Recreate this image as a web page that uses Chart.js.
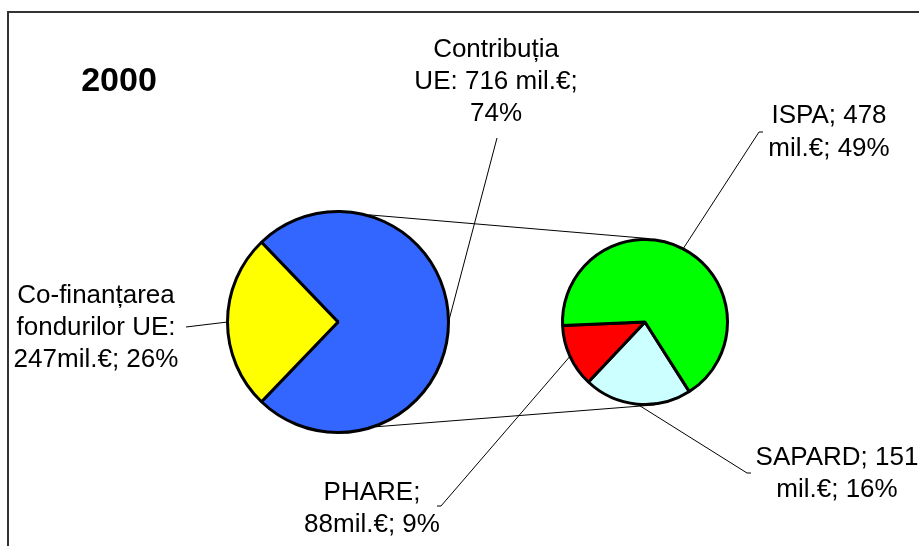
<!DOCTYPE html>
<html>
<head>
<meta charset="utf-8">
<script src="https://cdn.jsdelivr.net/npm/chart.js@4.4.0/dist/chart.umd.min.js"></script>
<style>
  html, body { margin: 0; padding: 0; background: #fff; }
  #wrap { position: relative; width: 919px; height: 546px; overflow: hidden; }
  #wrap canvas { position: absolute; left: 0; top: 0; }
</style>
</head>
<body>
<div id="wrap">
  <canvas id="mainPie" width="919" height="546"></canvas>
  <canvas id="subPie" width="919" height="546"></canvas>
</div>
<script>
// date 2000 - finantare UE (mil. euro)
var yearTitle = "2000";

var mainCategories = ["Contribuția UE", "Co-finanțarea fondurilor UE"];
var mainValues = [716, 247];
var mainColors = ["#3366FF", "#FFFF00"];

var subCategories = ["SAPARD", "PHARE", "ISPA"];
var subValues = [151, 88, 478];
var subColors = ["#CCFFFF", "#FF0000", "#00FF00"];

// etichete, asa cum apar in grafic (cu rupturile de rand)
var mainLabels = [
  ["Contribuția", "UE: 716 mil.€;", "74%"],
  ["Co-finanțarea", "fondurilor UE:", "247mil.€; 26%"]
];
var subLabels = [
  ["SAPARD; 151", "mil.€; 16%"],
  ["PHARE;", "88mil.€; 9%"],
  ["ISPA; 478", "mil.€; 49%"]
];

var FONT = '"Liberation Sans", Arial, sans-serif';

(function() {
  "use strict";

  var sum = function(arr) {
    return arr.reduce(function(a, b) { return a + b; }, 0);
  };

  // felia albastra centrata spre dreapta
  var mainRotation = 90 - (mainValues[0] / sum(mainValues)) * 180;

  var mainChart = new Chart(document.getElementById("mainPie"), {
    type: "pie",
    data: {
      labels: mainCategories,
      datasets: [{
        data: mainValues,
        backgroundColor: mainColors,
        borderColor: "#000",
        borderWidth: 3
      }]
    },
    options: {
      responsive: false,
      animation: false,
      rotation: mainRotation,
      layout: { padding: { left: 226, right: 469, top: 210, bottom: 112 } },
      plugins: { legend: { display: false }, tooltip: { enabled: false } }
    }
  });

  // eticheta: pozitii text + capat linie
  var labelPos = {
    main: [
      { x: 496, ys: [57, 89, 121], end: [497, 138], tick: 0 },
      { x: 96, ys: [303, 335, 367], end: [186, 327], tick: 0 }
    ],
    sub: [
      { x: 837, ys: [465, 497], end: [747, 473], tick: 4 },
      { x: 372, ys: [500, 532], end: [441, 506], tick: -4 },
      { x: 829, ys: [123, 156], end: [759, 132], tick: 4 }
    ]
  };

  var pointOn = function(arc, deg, r) {
    var a = deg * Math.PI / 180;
    return [arc.x + r * Math.cos(a), arc.y + r * Math.sin(a)];
  };

  var drawLeader = function(ctx, arc, lp) {
    var mid = (arc.startAngle + arc.endAngle) / 2;
    var sx = arc.x + arc.outerRadius * Math.cos(mid),
        sy = arc.y + arc.outerRadius * Math.sin(mid);
    ctx.beginPath();
    ctx.moveTo(sx, sy);
    ctx.lineTo(lp.end[0], lp.end[1]);
    if (lp.tick) ctx.lineTo(lp.end[0] + lp.tick, lp.end[1]);
    ctx.stroke();
  };

  var drawText = function(ctx, lines, lp) {
    lines.forEach(function(t, i) {
      ctx.fillText(t, lp.x, lp.ys[i]);
    });
  };

  var extras = {
    id: "pieOfPieExtras",
    afterDraw: function(chart) {
      var ctx = chart.ctx;
      var bigArc = mainChart.getDatasetMeta(0).data[0];
      var smallArc = chart.getDatasetMeta(0).data[0];

      ctx.save();

      // chenar
      ctx.strokeStyle = "#333";
      ctx.lineWidth = 2;
      ctx.strokeRect(8, 12, 1000, 1000);

      // liniile de legatura intre cele doua pie-uri
      ctx.strokeStyle = "#000";
      ctx.lineWidth = 1;
      var bt = pointOn(bigArc, -74, bigArc.outerRadius + 1),
          st = pointOn(smallArc, -87, smallArc.outerRadius + 1),
          bb = pointOn(bigArc, 70, bigArc.outerRadius + 1),
          sb = pointOn(smallArc, 83, smallArc.outerRadius + 1);
      ctx.beginPath();
      ctx.moveTo(bt[0], bt[1]); ctx.lineTo(st[0], st[1]);
      ctx.moveTo(bb[0], bb[1]); ctx.lineTo(sb[0], sb[1]);
      ctx.stroke();

      // linii catre etichete
      mainChart.getDatasetMeta(0).data.forEach(function(arc, i) {
        drawLeader(ctx, arc, labelPos.main[i]);
      });
      chart.getDatasetMeta(0).data.forEach(function(arc, i) {
        drawLeader(ctx, arc, labelPos.sub[i]);
      });

      // texte
      ctx.fillStyle = "#000";
      ctx.textAlign = "center";
      ctx.textBaseline = "alphabetic";
      ctx.font = "26px " + FONT;
      mainLabels.forEach(function(lines, i) { drawText(ctx, lines, labelPos.main[i]); });
      subLabels.forEach(function(lines, i) { drawText(ctx, lines, labelPos.sub[i]); });

      ctx.font = "bold 34px " + FONT;
      ctx.fillText(yearTitle, 119, 91);

      ctx.restore();
    }
  };

  var subChart = new Chart(document.getElementById("subPie"), {
    type: "pie",
    data: {
      labels: subCategories,
      datasets: [{
        data: subValues,
        backgroundColor: subColors,
        borderColor: "#000",
        borderWidth: 3
      }]
    },
    options: {
      responsive: false,
      animation: false,
      rotation: 147.5,
      layout: { padding: { left: 561, right: 190, top: 238, bottom: 140 } },
      plugins: { legend: { display: false }, tooltip: { enabled: false } }
    },
    plugins: [extras]
  });
})();
</script>
</body>
</html>
